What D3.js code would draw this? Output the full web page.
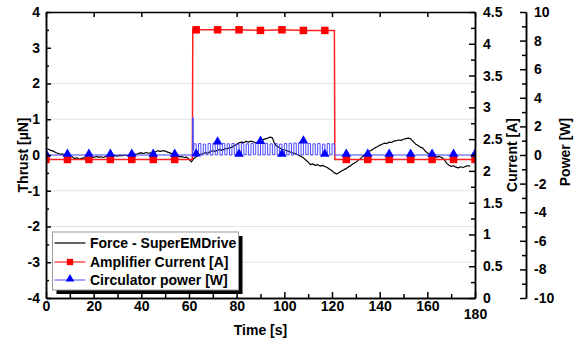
<!DOCTYPE html>
<html>
<head>
<meta charset="utf-8">
<script src="https://cdn.jsdelivr.net/npm/d3@7"></script>
<style>
  body { margin: 0; background: #fff; }
  svg { display: block; font-family: "Liberation Sans", Arial, sans-serif; font-weight: bold; }
  .axis text { font-size: 14px; font-weight: bold; fill: #000; }
  .axis path, .axis line { stroke: #000; stroke-width: 1.5; }
</style>
</head>
<body>
<svg id="chart"></svg>
<script>
// ---- data ----
var forceT = d3.range(0, 179); // seconds, one sample per second
var forceUN = [0.19,0.16,0.13,0.11,0.07,0.05,0.02,0.03,-0.02,-0.04,
  -0.07,-0.05,-0.10,-0.08,-0.12,-0.09,-0.08,-0.11,-0.09,-0.06,
  -0.07,-0.04,-0.06,-0.05,-0.07,-0.04,-0.05,-0.03,-0.04,-0.01,
  -0.03,-0.01,-0.02,0.00,-0.02,0.01,0.00,0.03,0.02,0.05,
  0.06,0.04,0.07,0.05,0.06,0.08,0.09,0.12,0.10,0.12,
  0.11,0.08,0.06,0.03,0.01,-0.02,-0.05,-0.04,-0.07,-0.06,
  -0.12,-0.19,-0.10,-0.05,-0.01,0.02,0.04,0.07,0.05,0.10,
  0.12,0.10,0.14,0.15,0.13,0.17,0.18,0.20,0.22,0.26,
  0.30,0.34,0.36,0.35,0.38,0.36,0.39,0.37,0.34,0.37,
  0.39,0.43,0.45,0.47,0.50,0.48,0.30,0.24,0.20,0.16,
  0.14,0.12,0.10,0.07,0.05,0.03,0.00,-0.04,-0.08,-0.14,
  -0.20,-0.27,-0.25,-0.29,-0.27,-0.31,-0.29,-0.32,-0.35,-0.40,
  -0.44,-0.50,-0.53,-0.49,-0.45,-0.41,-0.38,-0.33,-0.29,-0.24,
  -0.20,-0.15,-0.10,-0.03,0.02,0.07,0.12,0.15,0.20,0.23,
  0.27,0.30,0.33,0.32,0.36,0.35,0.39,0.40,0.42,0.41,
  0.44,0.46,0.47,0.45,0.38,0.31,0.27,0.22,0.20,0.12,
  0.06,0.01,-0.03,-0.05,-0.06,-0.04,-0.07,-0.12,-0.22,-0.28,
  -0.32,-0.30,-0.34,-0.36,-0.33,-0.35,-0.32,-0.30,-0.31];

var currentT = [0,9,18,27,36,45,54,61.4,61.6,63,72,81,90,99,108,117,121.0,121.2,126,135,144,153,162,171,180];
var currentA = [2.18,2.18,2.18,2.18,2.18,2.18,2.18,2.18,4.23,4.22,4.22,4.22,4.21,4.22,4.21,4.21,4.21,2.18,2.18,2.18,2.18,2.18,2.18,2.18,2.18];

var powerT = [0,9,18,27,36,45,54,61.2,61.5,61.8,
  62,63,64,65,66,67,68,69,70,71,72,73,74,75,76,77,78,79,80,81,
  82,83,84,85,86,87,88,89,90,91,92,93,94,95,96,97,98,99,100,101,
  102,103,104,105,106,107,108,109,110,111,112,113,114,115,116,117,118,119,120,121,
  126,135,144,153,162,171,180];
var powerW = [0,0,0,0,0,0,0,0,2.6,0.3,
  0.78,0.02,0.80,0.00,0.76,0.03,0.80,0.00,0.82,0.02,0.86,0.00,0.80,0.02,0.78,0.00,0.80,0.03,0.75,0.00,
  0.80,0.02,0.78,0.00,0.81,0.05,0.85,0.00,0.90,0.02,0.80,0.00,0.78,0.03,0.80,0.00,0.76,0.00,0.80,0.02,
  0.82,0.00,0.84,0.02,0.86,0.00,0.92,0.03,0.80,0.00,0.78,0.02,0.80,0.00,0.76,0.00,0.80,0.02,0.78,0.00,
  0,0,0,0,0,0,0];

var markerStep = 9; // symbols every 9 s
var timeTicks = [0,20,40,60,80,100,120,140,160,180];
var timeMinor = [10,30,50,70,90,110,130,150,170];
var thrustTicks = [-4,-3,-2,-1,0,1,2,3,4];
var thrustMinor = [-3.5,-2.5,-1.5,-0.5,0.5,1.5,2.5,3.5];
var thrustGrid = [-3,-2,-1,0,1,2];
var currentTicks = [0,0.5,1,1.5,2,2.5,3,3.5,4,4.5];
var currentMinor = [0.25,0.75,1.25,1.75,2.25,2.75,3.25,3.75,4.25];
var powerTicks = [-10,-8,-6,-4,-2,0,2,4,6,8,10];
var powerMinor = [-9,-7,-5,-3,-1,1,3,5,7,9];
var legendNames = ['Force - SuperEMDrive','Amplifier Current [A]','Circulator power [W]'];

// ---- layout ----
var width = 579, height = 345;
var m = { left: 46, right: 475, top: 12, bottom: 298 };

var svg = d3.select('#chart').attr('width', width).attr('height', height);

var x = d3.scaleLinear().domain([0,180]).range([m.left, m.right]);
var yL = d3.scaleLinear().domain([-4,4]).range([m.bottom, m.top]);
var yC = d3.scaleLinear().domain([0,4.5]).range([m.bottom, m.top]);
var yP = d3.scaleLinear().domain([-10,10]).range([m.bottom, m.top]);

var fmt = d => String(d);

// grid
svg.append('g').selectAll('line').data(thrustGrid).enter().append('line')
   .attr('x1', m.left).attr('x2', m.right)
   .attr('y1', d => yL(d)).attr('y2', d => yL(d))
   .attr('stroke', '#e2e2e2').attr('stroke-width', 1);

svg.append('clipPath').attr('id','plotclip').append('rect')
   .attr('x', m.left).attr('y', m.top).attr('width', m.right-m.left).attr('height', m.bottom-m.top);

var plot = svg.append('g').attr('clip-path','url(#plotclip)');

// force
var lineF = d3.line().x((d,i) => x(forceT[i])).y(d => yL(d));
plot.append('path').datum(forceUN)
    .attr('fill','none').attr('stroke','#000').attr('stroke-width',1.2)
    .attr('stroke-linejoin','round')
    .attr('d', lineF);

// current
var lineC = d3.line().x((d,i) => x(currentT[i])).y(d => yC(d));
plot.append('path').datum(currentA)
    .attr('fill','none').attr('stroke','#ff2020').attr('stroke-width',1.5)
    .attr('d', lineC);
var sqIdx = currentT.map((t,i) => i).filter(i => currentT[i] % markerStep === 0);
plot.selectAll('.sq').data(sqIdx).enter().append('path')
    .attr('class','sq')
    .attr('d', d3.symbol().type(d3.symbolSquare).size(56))
    .attr('transform', i => 'translate(' + x(currentT[i]) + ',' + yC(currentA[i]) + ')')
    .attr('fill','#ff0000');

// power
var lineP = d3.line().curve(d3.curveStepAfter).x((d,i) => x(powerT[i])).y(d => yP(d));
plot.append('path').datum(powerW)
    .attr('fill','none').attr('stroke','#4c4cff').attr('stroke-width',1)
    .attr('d', lineP);
var triIdx = powerT.map((t,i) => i).filter(i => powerT[i] % markerStep === 0);
plot.selectAll('.tri').data(triIdx).enter().append('path')
    .attr('class','tri')
    .attr('d', d3.symbol().type(d3.symbolTriangle).size(40))
    .attr('transform', i => 'translate(' + x(powerT[i]) + ',' + (yP(powerW[i]) - 1) + ')')
    .attr('fill','#0000ff');

// axes
function noLabels(g){ g.selectAll('text').remove(); }

var xAxisG = svg.append('g').attr('class','axis').attr('transform',`translate(0,${m.bottom})`)
   .call(d3.axisBottom(x).tickValues(timeTicks).tickFormat(fmt).tickSizeInner(-6).tickSizeOuter(0).tickPadding(3));
// last label sits a little lower in the original, clear of the current axis "0"
xAxisG.selectAll('.tick').filter(d => d === 180).select('text').attr('y', 11);
svg.append('g').attr('class','axis').attr('transform',`translate(0,${m.bottom})`)
   .call(d3.axisBottom(x).tickValues(timeMinor).tickSizeInner(-4).tickSizeOuter(0)).call(noLabels);
svg.append('g').attr('class','axis').attr('transform',`translate(0,${m.top})`)
   .call(d3.axisTop(x).tickValues(timeTicks).tickSizeInner(-5).tickSizeOuter(0)).call(noLabels);

svg.append('g').attr('class','axis').attr('transform',`translate(${m.left},0)`)
   .call(d3.axisLeft(yL).tickValues(thrustTicks).tickFormat(fmt).tickSizeInner(-5).tickSizeOuter(0).tickPadding(6));
svg.append('g').attr('class','axis').attr('transform',`translate(${m.left},0)`)
   .call(d3.axisLeft(yL).tickValues(thrustMinor).tickSizeInner(-3).tickSizeOuter(0)).call(noLabels);

svg.append('g').attr('class','axis').attr('transform',`translate(${m.right},0)`)
   .call(d3.axisRight(yC).tickValues(currentTicks).tickFormat(fmt).tickSizeInner(-6).tickSizeOuter(0).tickPadding(8));
svg.append('g').attr('class','axis').attr('transform',`translate(${m.right},0)`)
   .call(d3.axisRight(yC).tickValues(currentMinor).tickSizeInner(-4).tickSizeOuter(0)).call(noLabels);

svg.append('g').attr('class','axis').attr('transform',`translate(526,0)`)
   .call(d3.axisRight(yP).tickValues(powerTicks).tickFormat(fmt).tickSizeInner(-6).tickSizeOuter(0).tickPadding(8));
svg.append('g').attr('class','axis').attr('transform',`translate(526,0)`)
   .call(d3.axisRight(yP).tickValues(powerMinor).tickSizeInner(-4).tickSizeOuter(0)).call(noLabels);

// axis titles
svg.append('text').attr('transform','translate(28,155) rotate(-90)')
   .attr('text-anchor','middle').attr('font-size','14px').text('Thrust [µN]');
svg.append('text').attr('transform','translate(517,155) rotate(-90)')
   .attr('text-anchor','middle').attr('font-size','14px').text('Current [A]');
svg.append('text').attr('transform','translate(570,152) rotate(-90)')
   .attr('text-anchor','middle').attr('font-size','14px').text('Power [W]');
svg.append('text').attr('x',(m.left+m.right)/2).attr('y',335)
   .attr('text-anchor','middle').attr('font-size','14px').text('Time [s]');

// legend
var lg = svg.append('g').attr('transform','translate(52.5,232)');
lg.append('rect').attr('x',4).attr('y',4).attr('width',186).attr('height',58).attr('fill','#000');
lg.append('rect').attr('x',0).attr('y',0).attr('width',186).attr('height',58)
  .attr('fill','#fff').attr('stroke','#9a9a9a').attr('stroke-width',1);

var rows = lg.selectAll('.row').data(legendNames).enter().append('g')
    .attr('transform',(d,i) => 'translate(0,' + [11,30,48][i] + ')');
rows.append('line').attr('x1',2).attr('x2',33).attr('y1',0).attr('y2',0)
    .attr('stroke',(d,i) => ['#333','#ff2020','#4c4cff'][i])
    .attr('stroke-width',(d,i) => [1.5,1.2,1][i]);
rows.filter((d,i) => i===1).append('path')
    .attr('d', d3.symbol().type(d3.symbolSquare).size(40))
    .attr('transform','translate(17.5,0)').attr('fill','#ff0000');
rows.filter((d,i) => i===2).append('path')
    .attr('d', d3.symbol().type(d3.symbolTriangle).size(32))
    .attr('transform','translate(17.5,-1)').attr('fill','#0000ff');
rows.append('text').attr('x',37.5).attr('y',5).attr('font-size','14px').text(d => d);
</script>
</body>
</html>
